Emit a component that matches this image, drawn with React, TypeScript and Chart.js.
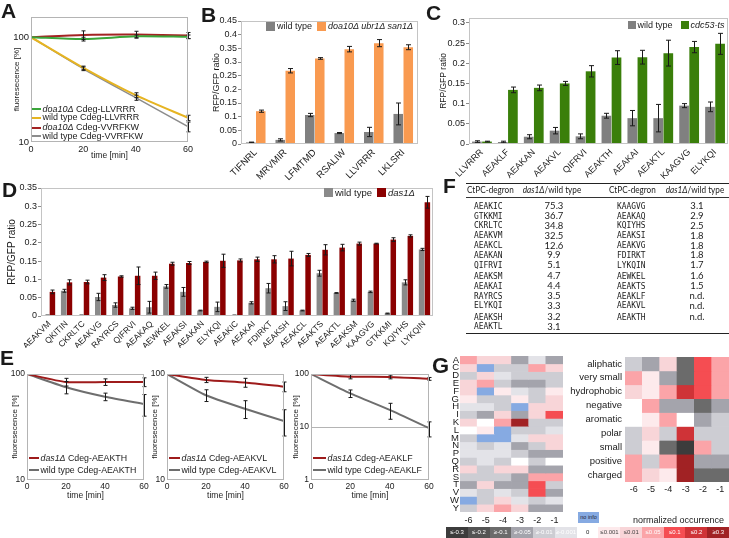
import React, { useEffect, useRef } from 'react';
import { Chart, registerables } from 'chart.js';

Chart.register(...registerables);
const SANS = "'Liberation Sans', Arial, Helvetica, sans-serif";
const TABLE_FONT = "Lato, 'Liberation Sans', sans-serif";
const MONO = "'DejaVu Sans Mono', 'Liberation Mono', monospace";
Chart.defaults.font.family = SANS;
Chart.defaults.color = '#1a1a1a';

// ---------------- Panel A ----------------
const A_TIME = [0, 20, 40, 60];
const A_DOA10_LLVRRR = [100, 96, 102, 101];
const A_DOA10_LLVRRR_ERR = [0, 4, 3, 4];
const A_WT_LLVRRR = [100, 51, 28, 17];
const A_WT_LLVRRR_ERR = [0, 2, 1.5, 1];
const A_DOA10_VVRFKW = [100, 105, 106, 104];
const A_DOA10_VVRFKW_ERR = [0, 10, 8, 7];
const A_WT_VVRFKW = [100, 50, 26.5, 14];
const A_WT_VVRFKW_ERR = [0, 2, 1.5, 1.5];
const A_Y_TICKS = [10, 100];
const TIME_TICKS = [0, 20, 40, 60];
const A_LABELS = [
  ['doa10Δ', ' Cdeg-LLVRRR'],
  ['', 'wild type Cdeg-LLVRRR'],
  ['doa10Δ', ' Cdeg-VVRFKW'],
  ['', 'wild type Cdeg-VVRFKW'],
];
const A_COLORS = ['#3aa53a', '#e6b422', '#a32222', '#8c8c8c'];

// ---------------- Panel B ----------------
const B_CATS = ['TIFNRL', 'MRVMIR', 'LFMTMD', 'RSALIW', 'LLVRRR', 'LKLSRI'];
const B_WT = [0.006, 0.015, 0.106, 0.040, 0.044, 0.110];
const B_WT_ERR = [0.001, 0.004, 0.006, 0.002, 0.017, 0.040];
const B_TRIPLE = [0.120, 0.268, 0.313, 0.347, 0.369, 0.354];
const B_TRIPLE_ERR = [0.004, 0.008, 0.003, 0.010, 0.013, 0.009];
const B_Y_TICKS = [0, 0.05, 0.1, 0.15, 0.2, 0.25, 0.3, 0.35, 0.4, 0.45];

// ---------------- Panel C ----------------
const C_CATS = ['LLVRRR', 'AEAKLF', 'AEAKAN', 'AEAKVL', 'QIFRVI', 'AEAKTH', 'AEAKAI', 'AEAKTL', 'KAAGVG', 'ELYKQI'];
const C_WT = [0.006, 0.005, 0.018, 0.033, 0.019, 0.070, 0.064, 0.064, 0.095, 0.092];
const C_WT_ERR = [0.002, 0.002, 0.005, 0.008, 0.006, 0.006, 0.019, 0.034, 0.005, 0.012];
const C_CDC53 = [0.006, 0.134, 0.139, 0.150, 0.180, 0.214, 0.215, 0.225, 0.240, 0.248];
const C_CDC53_ERR = [0.001, 0.007, 0.007, 0.005, 0.014, 0.017, 0.017, 0.032, 0.014, 0.026];
const C_Y_TICKS = [0, 0.05, 0.1, 0.15, 0.2, 0.25, 0.3];

// ---------------- Panel D ----------------
const D_CATS = ['AEAKVM', 'QKITIN', 'CKRLTC', 'AEAKVG', 'RAYRCS', 'QIFRVI', 'AEAKAQ', 'AEWKEL', 'AEAKSI', 'AEAKAN', 'ELYKQI', 'AEAKIC', 'AEAKAI', 'FDIRKT', 'AEAKSH', 'AEAKCL', 'AEAKTS', 'AEAKTL', 'AEAKSM', 'KAAGVG', 'GTKKMI', 'KQIYHS', 'LYKQIN'];
const D_WT = [0.002, 0.069, 0.002, 0.052, 0.030, 0.021, 0.024, 0.081, 0.066, 0.015, 0.025, 0.002, 0.036, 0.076, 0.027, 0.015, 0.117, 0.063, 0.043, 0.066, 0.007, 0.092, 0.182];
const D_WT_ERR = [0.0005, 0.004, 0.0005, 0.010, 0.006, 0.003, 0.016, 0.005, 0.012, 0.001, 0.013, 0.0005, 0.003, 0.013, 0.012, 0.001, 0.008, 0.001, 0.003, 0.002, 0.001, 0.007, 0.003];
const D_DAS1 = [0.066, 0.092, 0.093, 0.105, 0.108, 0.110, 0.110, 0.143, 0.145, 0.148, 0.151, 0.152, 0.155, 0.155, 0.157, 0.167, 0.181, 0.187, 0.198, 0.198, 0.209, 0.219, 0.311];
const D_DAS1_ERR = [0.005, 0.007, 0.005, 0.008, 0.002, 0.024, 0.010, 0.004, 0.004, 0.002, 0.018, 0.004, 0.006, 0.010, 0.020, 0.004, 0.014, 0.009, 0.004, 0.001, 0.005, 0.003, 0.016];
const D_Y_TICKS = [0, 0.05, 0.1, 0.15, 0.2, 0.25, 0.3, 0.35];

// ---------------- Panel E ----------------
const E_TIME = [0, 20, 40, 60];
const E1_DAS1 = [100, 84, 84, 84];
const E1_DAS1_ERR = [0, 7, 6, 8];
const E1_WT = [100, 75, 61, 52];
const E1_WT_ERR = [0, 10, 5, 12];
const E2_DAS1 = [100, 88, 83, 76];
const E2_DAS1_ERR = [0, 5, 8, 8];
const E2_WT = [100, 63, 47, 36];
const E2_WT_ERR = [0, 8, 9, 10];
const E3_DAS1 = [100, 89, 88, 81];
const E3_DAS1_ERR = [0, 8, 7, 5];
const E3_WT = [100, 43, 21, 9.5];
const E3_WT_ERR = [0, 7, 7, 3];
const E12_Y_TICKS = [10, 100];
const E3_Y_TICKS = [1, 10, 100];
const E_DEGRONS = ['AEAKTH', 'AEAKVL', 'AEAKLF'];

// ---------------- Panel F ----------------
const F_LEFT_NAMES = ['AEAKIC', 'GTKKMI', 'CKRLTC', 'AEAKVM', 'AEAKCL', 'AEAKAN', 'QIFRVI', 'AEAKSM', 'AEAKAI', 'RAYRCS', 'ELYKQI', 'AEAKSH', 'AEAKTL'];
const F_LEFT_VALS = ['75.3', '36.7', '34.8', '32.5', '12.6', '9.9', '5.1', '4.7', '4.4', '3.5', '3.3', '3.2', '3.1'];
const F_RIGHT_NAMES = ['KAAGVG', 'AEAKAQ', 'KQIYHS', 'AEAKSI', 'AEAKVG', 'FDIRKT', 'LYKQIN', 'AEWKEL', 'AEAKTS', 'AEAKLF', 'AEAKVL', 'AEAKTH'];
const F_RIGHT_VALS = ['3.1', '2.9', '2.5', '1.8', '1.8', '1.8', '1.7', '1.6', '1.5', 'n.d.', 'n.d.', 'n.d.'];

// ---------------- Panel G ----------------
const G_COLS = ['-6', '-5', '-4', '-3', '-2', '-1'];
const G1_ROWS = ['A', 'C', 'D', 'E', 'F', 'G', 'H', 'I', 'K', 'L', 'M', 'N', 'P', 'Q', 'R', 'S', 'T', 'V', 'W', 'Y'];
const G1_VALUES: (number | null)[][] = [
  [0.05, 0.01, 0.01, -0.05, -0.001, -0.05],
  [0.01, null, -0.01, -0.01, 0.05, 0.01],
  [-0.01, 0.01, -0.001, -0.01, -0.01, -0.01],
  [0.01, 0.05, -0.01, -0.05, -0.05, -0.01],
  [0.01, null, 0.001, -0.001, -0.01, 0.001],
  [0.001, -0.01, -0.01, 0.001, -0.01, 0.01],
  [-0.001, -0.001, -0.01, null, 0.01, 0.01],
  [-0.01, -0.05, 0.01, -0.05, 0.01, 0.1],
  [0.01, 0, 0.05, 0.3, -0.01, -0.01],
  [0, 0.001, null, -0.01, -0.01, -0.001],
  [-0.01, null, null, -0.001, 0.01, 0.01],
  [-0.001, -0.01, -0.001, -0.05, -0.01, 0.01],
  [-0.001, -0.001, -0.001, -0.01, -0.05, -0.05],
  [-0.01, -0.001, -0.01, 0, -0.01, 0],
  [0.01, -0.01, 0.01, 0.01, -0.05, -0.05],
  [-0.01, -0.01, -0.01, -0.05, 0.05, 0.05],
  [-0.05, 0.01, -0.05, -0.05, 0.1, -0.01],
  [-0.001, -0.01, -0.001, -0.01, 0.1, -0.05],
  [null, -0.01, 0.01, -0.001, -0.01, -0.001],
  [-0.01, 0.01, 0.05, 0.01, -0.05, -0.05],
];
const G2_ROWS = ['aliphatic', 'very small', 'hydrophobic', 'negative', 'aromatic', 'polar', 'small', 'positive', 'charged'];
const G2_VALUES: (number | null)[][] = [
  [-0.01, -0.05, 0.01, -0.1, 0.1, 0.05],
  [0.05, 0.001, -0.05, -0.1, 0.1, 0.05],
  [0.01, 0.001, 0.05, 0.2, 0.1, 0.05],
  [0, 0.05, -0.05, -0.05, -0.1, -0.05],
  [0, 0.001, 0.05, 0, -0.05, -0.01],
  [-0.01, 0.01, -0.01, 0.2, -0.01, -0.01],
  [-0.01, 0.001, -0.1, -0.3, 0.05, -0.01],
  [0.05, -0.01, 0.05, 0.3, -0.05, -0.05],
  [0.05, 0.01, 0.001, 0.3, -0.1, -0.1],
];
const HEAT_BINS = [-0.3, -0.2, -0.1, -0.05, -0.01, -0.001, 0, 0.001, 0.01, 0.05, 0.1, 0.2, 0.3];
const HEAT_LABELS = ['≤-0.3', '≤-0.2', '≥-0.1', '≥-0.05', '≥-0.01', '≥-0.001', '0', '≤0.001', '≤0.01', '≤0.05', '≤0.1', '≤0.2', '≥0.3'];
const HEAT_COLORS = ['#3c3c3c', '#535353', '#6b6b6b', '#a4a4ac', '#cdcdd3', '#e3e3e8', '#ffffff', '#fdeaec', '#f8d5d8', '#fba4a8', '#f54d52', '#cf3337', '#a12224'];
const HEAT_TEXT = ['#fff', '#fff', '#fff', '#fff', '#fff', '#fff', '#222', '#444', '#444', '#fff', '#fff', '#fff', '#fff'];
const NO_INFO_COLOR = '#86aae2';

function heatColor(v: number | null) {
  if (v === null) return NO_INFO_COLOR;
  let best = 0;
  HEAT_BINS.forEach((b, i) => {
    if (Math.abs(v - b) < Math.abs(v - HEAT_BINS[best])) best = i;
  });
  return HEAT_COLORS[best];
}

type Box = { x: number; y: number; w: number; h: number };
type Area = { l: number; t: number; r: number; b: number };

const errorBars = {
  id: 'errorBars',
  afterDatasetsDraw(chart: any) {
    const ctx = chart.ctx;
    chart.data.datasets.forEach((ds: any, i: number) => {
      if (!ds.errors) return;
      const meta = chart.getDatasetMeta(i);
      const ys = chart.scales[meta.yAxisID];
      meta.data.forEach((el: any, j: number) => {
        const e = ds.errors[j];
        if (!e) return;
        const raw = ds.data[j];
        const v = typeof raw === 'number' ? raw : raw.y;
        const lo = Math.max(v - e, ys.min);
        const yTop = ys.getPixelForValue(v + e);
        const yBot = ys.getPixelForValue(lo);
        const x = Math.round(el.x) + 0.5;
        const hw = (ds.capWidth ?? 4) / 2;
        ctx.save();
        ctx.strokeStyle = '#1a1a1a';
        ctx.lineWidth = 1;
        ctx.beginPath();
        ctx.moveTo(x, yTop);
        ctx.lineTo(x, yBot);
        ctx.moveTo(x - hw, yTop);
        ctx.lineTo(x + hw, yTop);
        ctx.moveTo(x - hw, yBot);
        ctx.lineTo(x + hw, yBot);
        ctx.stroke();
        ctx.restore();
      });
    });
  },
};

const frame = {
  id: 'frame',
  beforeDatasetsDraw(chart: any, _a: any, opts: any) {
    if (!opts || !opts.hlines) return;
    const { ctx, chartArea: a } = chart;
    ctx.save();
    ctx.strokeStyle = opts.color;
    ctx.lineWidth = 1;
    opts.hlines.forEach((v: number) => {
      const y = Math.round(chart.scales.y.getPixelForValue(v)) + 0.5;
      ctx.beginPath();
      ctx.moveTo(a.left, y);
      ctx.lineTo(a.right, y);
      ctx.stroke();
    });
    ctx.restore();
  },
  afterDraw(chart: any, _a: any, opts: any) {
    if (!opts || !opts.color) return;
    const { ctx, chartArea: a } = chart;
    ctx.save();
    ctx.strokeStyle = opts.color;
    ctx.lineWidth = 1;
    ctx.strokeRect(Math.round(a.left) + 0.5, Math.round(a.top) + 0.5, Math.round(a.right - a.left) - 1, Math.round(a.bottom - a.top) - 1);
    ctx.restore();
  },
};

function yTitle(text: string, size: number, cx: number, cv: Box) {
  return { display: true, text, font: { size }, color: '#1a1a1a', padding: { top: cx - cv.x - size * 0.6, bottom: 0 } };
}
function xTitle(text: string, size: number, cy: number, cv: Box) {
  return { display: true, text, font: { size }, color: '#1a1a1a', padding: { top: 0, bottom: cv.y + cv.h - cy - size * 0.6 } };
}
function basePadding(cv: Box, a: Area) {
  return { left: 0, top: a.t - cv.y, right: cv.x + cv.w - a.r, bottom: 0 };
}
const fmt = (v: number) => String(Math.round(v * 1000) / 1000);

function barConfig(o: any) {
  const cv: Box = o.cv;
  const a: Area = o.a;
  return {
    type: 'bar',
    data: {
      labels: o.cats,
      datasets: o.series.map((s: any) => ({
        data: s.data,
        errors: s.err,
        capWidth: o.cap,
        backgroundColor: s.color,
        borderWidth: 0,
        categoryPercentage: o.catPct,
        barPercentage: o.barPct,
      })),
    },
    options: {
      responsive: false,
      animation: false,
      events: [],
      layout: { padding: basePadding(cv, a) },
      plugins: { legend: { display: false }, tooltip: { enabled: false }, frame: { color: '#c4c4c4' } },
      scales: {
        x: {
          afterFit: (s: any) => { s.height = cv.y + cv.h - a.b; },
          grid: { display: false, drawTicks: false },
          border: { display: false },
          ticks: { font: { size: o.catSize }, minRotation: 45, maxRotation: 45, padding: 3, autoSkip: false, color: '#1a1a1a' },
        },
        y: {
          min: 0,
          max: o.yMax,
          afterFit: (s: any) => { s.width = a.l - cv.x; },
          afterBuildTicks: (s: any) => { s.ticks = o.yTicks.map((v: number) => ({ value: v })); },
          grid: { display: true, drawOnChartArea: false, drawTicks: true, tickLength: 3, color: '#8c8c8c' },
          border: { display: false },
          ticks: { font: { size: o.tickSize }, padding: 1, autoSkip: false, color: '#1a1a1a', callback: (v: number) => fmt(v) },
          title: yTitle(o.title, o.titleSize, o.titleX, cv),
        },
      },
    },
    plugins: [frame, errorBars],
  };
}

function lineConfig(o: any) {
  const cv: Box = o.cv;
  const a: Area = o.a;
  return {
    type: 'line',
    data: {
      datasets: o.series.map((s: any) => ({
        data: o.time.map((t: number, i: number) => ({ x: t, y: s.data[i] })),
        errors: s.err,
        capWidth: o.cap,
        borderColor: s.color,
        backgroundColor: s.color,
        borderWidth: s.width,
        pointRadius: 0,
        tension: o.tension,
        fill: false,
      })),
    },
    options: {
      responsive: false,
      animation: false,
      events: [],
      layout: { padding: basePadding(cv, a) },
      plugins: { legend: { display: false }, tooltip: { enabled: false }, frame: { color: '#b4b4b4', hlines: o.hlines } },
      scales: {
        x: {
          type: 'linear',
          min: 0,
          max: 60,
          afterFit: (s: any) => { s.height = cv.y + cv.h - a.b; },
          afterBuildTicks: (s: any) => { s.ticks = TIME_TICKS.map((v) => ({ value: v })); },
          grid: { display: false, drawTicks: false },
          border: { display: false },
          ticks: { font: { size: o.tickSize }, padding: 2, color: '#1a1a1a', callback: (v: number) => String(v) },
          title: xTitle('time [min]', o.xTitleSize, o.xTitleY, cv),
        },
        y: {
          type: 'logarithmic',
          min: o.yMin,
          max: o.yMax,
          afterFit: (s: any) => { s.width = a.l - cv.x; },
          afterBuildTicks: (s: any) => { s.ticks = o.yTicks.map((v: number) => ({ value: v })); },
          grid: { display: false, drawTicks: false },
          border: { display: false },
          ticks: { font: { size: o.yTickSize }, padding: 2, color: '#1a1a1a', autoSkip: false, callback: (v: number) => String(v) },
          title: yTitle('fluoresecence [%]', o.yTitleSize, o.yTitleX, cv),
        },
      },
    },
    plugins: [frame, errorBars],
  };
}

function heatConfig(o: any) {
  const cv: Box = o.cv;
  const a: Area = o.a;
  const rows: string[] = o.rows;
  return {
    type: 'bar',
    data: {
      labels: G_COLS,
      datasets: rows.map((_r, r) => ({
        data: G_COLS.map(() => [r, r + 1]),
        backgroundColor: o.values[r].map(heatColor),
        grouped: false,
        barPercentage: 1,
        categoryPercentage: 1,
        borderWidth: 0,
      })),
    },
    options: {
      responsive: false,
      animation: false,
      events: [],
      layout: { padding: basePadding(cv, a) },
      plugins: { legend: { display: false }, tooltip: { enabled: false } },
      scales: {
        x: {
          afterFit: (s: any) => { s.height = cv.y + cv.h - a.b; },
          grid: { display: false, drawTicks: false },
          border: { display: false },
          ticks: { font: { size: o.colSize }, padding: o.colPad, color: '#1a1a1a', maxRotation: 0, autoSkip: false },
        },
        y: {
          type: 'linear',
          min: 0,
          max: rows.length,
          reverse: true,
          afterFit: (s: any) => { s.width = a.l - cv.x; },
          afterBuildTicks: (s: any) => { s.ticks = rows.map((_r, i) => ({ value: i + 0.5 })); },
          grid: { display: false, drawTicks: false },
          border: { display: false },
          ticks: { font: { size: o.rowSize, lineHeight: 1 }, padding: o.rowPad, color: '#1a1a1a', autoSkip: false, callback: (_v: number, i: number) => rows[i] },
        },
      },
    },
  };
}

// ---------------- layout boxes ----------------
const A_BOX: Box = { x: 0, y: 0, w: 200, h: 165 };
const A_AREA: Area = { l: 31, t: 17, r: 188, b: 142 };
const B_BOX: Box = { x: 200, y: 8, w: 224, h: 180 };
const B_AREA: Area = { l: 241, t: 21, r: 418, b: 144 };
const C_BOX: Box = { x: 420, y: 8, w: 309, h: 180 };
const C_AREA: Area = { l: 469, t: 18, r: 728, b: 144 };
const D_BOX: Box = { x: 0, y: 178, w: 445, h: 170 };
const D_AREA: Area = { l: 41, t: 188, r: 433, b: 316 };
const E1_BOX: Box = { x: 0, y: 362, w: 153, h: 142 };
const E1_AREA: Area = { l: 27, t: 374, r: 144, b: 480 };
const E2_BOX: Box = { x: 140, y: 362, w: 153, h: 142 };
const E2_AREA: Area = { l: 167, t: 374, r: 284, b: 480 };
const E3_BOX: Box = { x: 284, y: 362, w: 154, h: 142 };
const E3_AREA: Area = { l: 311, t: 374, r: 429, b: 480 };
const G1_BOX: Box = { x: 440, y: 342, w: 128, h: 188 };
const G1_AREA: Area = { l: 460, t: 356, r: 563, b: 512 };
const G2_BOX: Box = { x: 560, y: 345, w: 169, h: 150 };
const G2_AREA: Area = { l: 625, t: 357, r: 729, b: 482 };

const makeA = () =>
  lineConfig({
    cv: A_BOX, a: A_AREA, time: A_TIME,
    series: [
      { data: A_DOA10_LLVRRR, err: A_DOA10_LLVRRR_ERR, color: A_COLORS[0], width: 2 },
      { data: A_WT_LLVRRR, err: A_WT_LLVRRR_ERR, color: A_COLORS[1], width: 2 },
      { data: A_DOA10_VVRFKW, err: A_DOA10_VVRFKW_ERR, color: A_COLORS[2], width: 2 },
      { data: A_WT_VVRFKW, err: A_WT_VVRFKW_ERR, color: A_COLORS[3], width: 1.5 },
    ],
    yMin: 10, yMax: 156, yTicks: A_Y_TICKS, tickSize: 9, yTickSize: 9.5,
    yTitleSize: 8, yTitleX: 16.5, xTitleSize: 8.5, xTitleY: 155.5, tension: 0.25, cap: 4,
  });

const makeB = () =>
  barConfig({
    cv: B_BOX, a: B_AREA, cats: B_CATS,
    series: [
      { data: B_WT, err: B_WT_ERR, color: '#808080' },
      { data: B_TRIPLE, err: B_TRIPLE_ERR, color: '#f99a50' },
    ],
    yMax: 0.45, yTicks: B_Y_TICKS, tickSize: 9, catSize: 9.5,
    title: 'RFP/GFP ratio', titleSize: 9, titleX: 216.5, catPct: 0.68, barPct: 0.95, cap: 5,
  });

const makeC = () =>
  barConfig({
    cv: C_BOX, a: C_AREA, cats: C_CATS,
    series: [
      { data: C_WT, err: C_WT_ERR, color: '#808080' },
      { data: C_CDC53, err: C_CDC53_ERR, color: '#3a7f0a' },
    ],
    yMax: 0.312, yTicks: C_Y_TICKS, tickSize: 9, catSize: 9,
    title: 'RFP/GFP ratio', titleSize: 8.5, titleX: 444, catPct: 0.78, barPct: 0.96, cap: 5,
  });

const makeD = () =>
  barConfig({
    cv: D_BOX, a: D_AREA, cats: D_CATS,
    series: [
      { data: D_WT, err: D_WT_ERR, color: '#8a8a8a' },
      { data: D_DAS1, err: D_DAS1_ERR, color: '#8b0000' },
    ],
    yMax: 0.35, yTicks: D_Y_TICKS, tickSize: 9, catSize: 8.5,
    title: 'RFP/GFP ratio', titleSize: 10, titleX: 12, catPct: 0.68, barPct: 0.95, cap: 4,
  });

const E_RED = '#9e1b1b';
const E_GRAY = '#6e6e6e';
const makeE = (cv: Box, a: Area, das1: number[], das1Err: number[], wt: number[], wtErr: number[], yMin: number, yTicks: number[], titleX: number, hlines?: number[]) => () =>
  lineConfig({
    cv, a, time: E_TIME,
    series: [
      { data: das1, err: das1Err, color: E_RED, width: 2 },
      { data: wt, err: wtErr, color: E_GRAY, width: 2 },
    ],
    yMin, yMax: 100, yTicks, tickSize: 8.5, yTickSize: 8.5,
    yTitleSize: 8, yTitleX: titleX, xTitleSize: 8.5, xTitleY: 495.7, tension: 0.2, cap: 4, hlines,
  });

const makeE1 = makeE(E1_BOX, E1_AREA, E1_DAS1, E1_DAS1_ERR, E1_WT, E1_WT_ERR, 10, E12_Y_TICKS, 15);
const makeE2 = makeE(E2_BOX, E2_AREA, E2_DAS1, E2_DAS1_ERR, E2_WT, E2_WT_ERR, 10, E12_Y_TICKS, 155);
const makeE3 = makeE(E3_BOX, E3_AREA, E3_DAS1, E3_DAS1_ERR, E3_WT, E3_WT_ERR, 1, E3_Y_TICKS, 295.5, [10]);

const makeG1 = () => heatConfig({ cv: G1_BOX, a: G1_AREA, rows: G1_ROWS, values: G1_VALUES, rowSize: 9.5, rowPad: 1, colSize: 9, colPad: 3 });
const makeG2 = () => heatConfig({ cv: G2_BOX, a: G2_AREA, rows: G2_ROWS, values: G2_VALUES, rowSize: 9.5, rowPad: 3, colSize: 9, colPad: 2 });

function ChartCanvas({ box, make }: { box: Box; make: () => any }) {
  const ref = useRef<HTMLCanvasElement | null>(null);
  useEffect(() => {
    if (!ref.current) return;
    const chart = new Chart(ref.current, make());
    return () => chart.destroy();
  }, []);
  return <canvas ref={ref} width={box.w} height={box.h} style={{ position: 'absolute', left: box.x, top: box.y, width: box.w, height: box.h }} />;
}

function Txt(p: { x: number; y: number; s: number; children?: React.ReactNode; align?: string; bold?: boolean; italic?: boolean; color?: string; family?: string; sx?: number }) {
  const sx = p.sx ?? 1;
  const shift = p.align === 'center' ? ' translateX(-50%)' : p.align === 'right' ? ' translateX(-100%)' : '';
  const tx = `scaleX(${sx})${shift}`;
  return (
    <div style={{ position: 'absolute', left: p.x, top: p.y - p.s * 0.6, fontSize: p.s, lineHeight: `${p.s * 1.2}px`, whiteSpace: 'nowrap', transform: tx, transformOrigin: '0 0', fontWeight: p.bold ? 700 : 400, fontStyle: p.italic ? 'italic' : 'normal', color: p.color ?? '#1a1a1a', fontFamily: p.family ?? SANS }}>
      {p.children}
    </div>
  );
}

function LineKey(p: { x1: number; x2: number; y: number; color: string; w: number; it: string; rest: string; s: number }) {
  return (
    <>
      <div style={{ position: 'absolute', left: p.x1, top: p.y - p.w / 2, width: p.x2 - p.x1, height: p.w, background: p.color }} />
      <Txt x={p.x2 + 1.5} y={p.y} s={p.s}>
        {p.it ? <i>{p.it}</i> : null}
        {p.rest}
      </Txt>
    </>
  );
}

function BoxKey(p: { x: number; y: number; size: number; color: string; label: string; italic?: boolean; s: number }) {
  return (
    <>
      <div style={{ position: 'absolute', left: p.x, top: p.y - p.size / 2, width: p.size, height: p.size, background: p.color }} />
      <Txt x={p.x + p.size + 2} y={p.y} s={p.s} italic={p.italic}>{p.label}</Txt>
    </>
  );
}

const rowY = (i: number) => 206 + i * 9.8 + (i >= 7 ? 1.5 : 0) + (i >= 11 ? 1.5 : 0);

export default function App() {
  const E_KEYS = [
    { x1: 29, x2: 39 },
    { x1: 169, x2: 180 },
    { x1: 313, x2: 326 },
  ];
  const aYs = [109, 117.5, 127.5, 136];
  return (
    <div style={{ position: 'fixed', left: 0, top: 0, width: 729, height: 538, background: '#fff', overflow: 'hidden', fontFamily: SANS, color: '#1a1a1a' }}>
      <ChartCanvas box={A_BOX} make={makeA} />
      <ChartCanvas box={B_BOX} make={makeB} />
      <ChartCanvas box={C_BOX} make={makeC} />
      <ChartCanvas box={D_BOX} make={makeD} />
      <ChartCanvas box={E1_BOX} make={makeE1} />
      <ChartCanvas box={E2_BOX} make={makeE2} />
      <ChartCanvas box={E3_BOX} make={makeE3} />
      <ChartCanvas box={G1_BOX} make={makeG1} />
      <ChartCanvas box={G2_BOX} make={makeG2} />

      {/* panel letters */}
      <Txt x={1} y={10.5} s={21} bold>A</Txt>
      <Txt x={201} y={14.5} s={21} bold>B</Txt>
      <Txt x={426} y={12.5} s={21} bold>C</Txt>
      <Txt x={2} y={189.5} s={21} bold>D</Txt>
      <Txt x={0} y={357.5} s={21} bold>E</Txt>
      <Txt x={443} y={185.5} s={21} bold>F</Txt>
      <Txt x={432} y={366} s={22} bold>G</Txt>

      {/* A legend */}
      {A_LABELS.map((lab, i) => (
        <LineKey key={i} x1={32} x2={41} y={aYs[i]} color={A_COLORS[i]} w={i === 3 ? 1.5 : 2} it={lab[0]} rest={lab[1]} s={9} />
      ))}

      {/* B legend */}
      <BoxKey x={266} y={26} size={9} color="#808080" label="wild type" s={9} />
      <BoxKey x={317} y={26} size={9} color="#f99a50" label="doa10Δ ubr1Δ san1Δ" italic s={9} />

      {/* C legend */}
      <BoxKey x={628} y={25} size={7.5} color="#808080" label="wild type" s={9} />
      <BoxKey x={681} y={25} size={7.5} color="#3a7f0a" label="cdc53-ts" italic s={9} />

      {/* D legend */}
      <BoxKey x={324} y={192.5} size={9} color="#8a8a8a" label="wild type" s={9.5} />
      <BoxKey x={377} y={192.5} size={9} color="#8b0000" label="das1Δ" italic s={9.5} />

      {/* E legends */}
      {E_DEGRONS.map((d, k) => (
        <React.Fragment key={d}>
          <LineKey x1={E_KEYS[k].x1} x2={E_KEYS[k].x2} y={458.3} color={E_RED} w={2} it="das1Δ" rest={` Cdeg-${d}`} s={8.8} />
          <LineKey x1={E_KEYS[k].x1} x2={E_KEYS[k].x2} y={470} color={E_GRAY} w={2} it="" rest={`wild type Cdeg-${d}`} s={8.8} />
        </React.Fragment>
      ))}

      {/* F table */}
      <div style={{ position: 'absolute', left: 466, top: 182.5, width: 263, height: 1.3, background: '#222' }} />
      <div style={{ position: 'absolute', left: 466, top: 197, width: 263, height: 0.8, background: '#333' }} />
      <div style={{ position: 'absolute', left: 466, top: 333, width: 263, height: 1.2, background: '#222' }} />
      <Txt x={467} y={190} s={9.5} family={TABLE_FONT} sx={0.86}>CtPC-degron</Txt>
      <Txt x={552} y={190} s={9.5} family={TABLE_FONT} align="center" sx={0.86}><i>das1Δ</i>/wild type</Txt>
      <Txt x={609} y={190} s={9.5} family={TABLE_FONT} sx={0.86}>CtPC-degron</Txt>
      <Txt x={695} y={190} s={9.5} family={TABLE_FONT} align="center" sx={0.86}><i>das1Δ</i>/wild type</Txt>
      {F_LEFT_NAMES.map((n, i) => (
        <React.Fragment key={'l' + n}>
          <Txt x={474} y={rowY(i)} s={8.6} family={MONO} sx={0.92}>{n}</Txt>
          <Txt x={554} y={rowY(i)} s={9.5} family={TABLE_FONT} align="center">{F_LEFT_VALS[i]}</Txt>
        </React.Fragment>
      ))}
      {F_RIGHT_NAMES.map((n, i) => (
        <React.Fragment key={'r' + n}>
          <Txt x={617} y={rowY(i)} s={8.6} family={MONO} sx={0.92}>{n}</Txt>
          <Txt x={697} y={rowY(i)} s={9.5} family={TABLE_FONT} align="center">{F_RIGHT_VALS[i]}</Txt>
        </React.Fragment>
      ))}

      {/* G legend */}
      <div style={{ position: 'absolute', left: 578, top: 512, width: 21, height: 11, background: NO_INFO_COLOR, color: '#223', fontSize: 5.5, lineHeight: '11px', textAlign: 'center', whiteSpace: 'nowrap' }}>no info</div>
      <Txt x={633} y={520} s={9}>normalized occurrence</Txt>
      {HEAT_LABELS.map((lab, i) => (
        <div key={lab} style={{ position: 'absolute', left: 446 + i * 21.77, top: 527, width: 22.3, height: 11, background: HEAT_COLORS[i], color: HEAT_TEXT[i], fontSize: 6, lineHeight: '11px', textAlign: 'center', whiteSpace: 'nowrap', overflow: 'hidden' }}>
          {lab}
        </div>
      ))}
    </div>
  );
}
